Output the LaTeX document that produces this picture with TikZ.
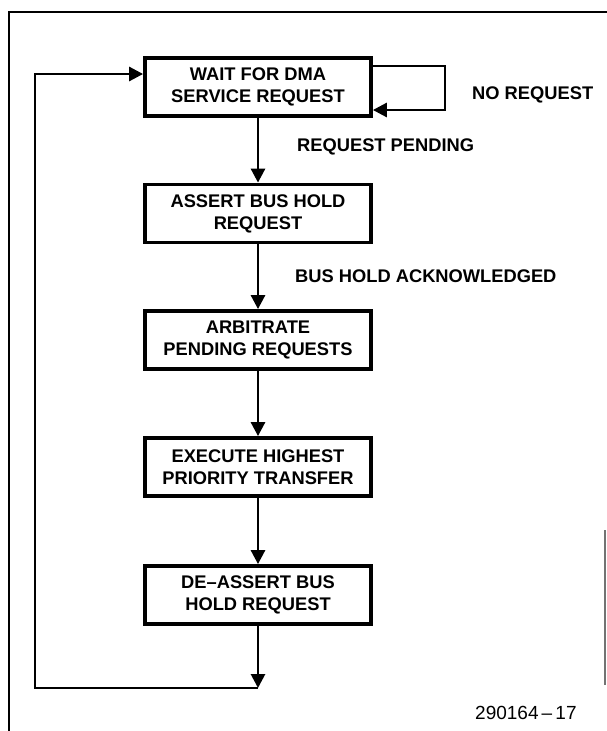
\documentclass[tikz,border=0pt]{standalone}
\usepackage{fontspec}
\newfontfamily\labfont{Liberation Sans}
\usetikzlibrary{arrows.meta}
\begin{document}
\begin{tikzpicture}[x=1pt,y=-1pt,
  >={Triangle[width=14pt,length=14pt]},
  every node/.style={font=\labfont\bfseries\fontsize{18.3}{22}\selectfont, inner sep=0pt},
  stepbox/.style={draw, line width=3.8pt, minimum width=226pt, minimum height=58pt, align=center, outer sep=1.9pt},
  arr/.style={line width=2.8pt, ->},
  lab/.style={anchor=west}]
\useasboundingbox (0,0) rectangle (607,731);
\fill[white] (0,0) rectangle (607,731);
% frame
\draw[line width=2pt] (9,731) -- (9,12) -- (607,12);
\draw[line width=1.2pt, black!55] (605,530) -- (605,685);
% boxes
\node[stepbox] (b1) at (258,87) {WAIT FOR DMA\\SERVICE REQUEST};
\node[stepbox] (b2) at (258,213.5) {ASSERT BUS HOLD\\REQUEST};
\node[stepbox] (b3) at (258,340) {ARBITRATE\\PENDING REQUESTS};
\node[stepbox] (b4) at (258,467) {EXECUTE HIGHEST\\PRIORITY TRANSFER};
\node[stepbox] (b5) at (258,595) {DE–ASSERT BUS\\HOLD REQUEST};
% labels
\node[lab] (nr) at (472,95) {NO REQUEST};
\node[lab] (rp) at (297,147) {REQUEST PENDING};
\node[lab] (bh) at (295,276) {BUS HOLD ACKNOWLEDGED};
\node[lab, font=\labfont\fontsize{19}{22}\selectfont] (id) at (475,713) {290164\,–\,17};
% coordinates
\coordinate (l1) at (445,66);
\coordinate (l2) at (445,110);
\coordinate (c1) at (258,688);
\coordinate (c2) at (35,688);
\coordinate (c3) at (35,74);
% connectors
\draw[arr] (b1) -- (b2);
\draw[arr] (b2) -- (b3);
\draw[arr] (b3) -- (b4);
\draw[arr] (b4) -- (b5);
\draw[arr] (b5) -- (c1);
\draw[arr] (b1.east |- l1) -- (l1) -- (l2) -- (b1.east |- l2);
\draw[arr] (c1) -- (c2) -- (c3) -- (b1.west |- c3);
\end{tikzpicture}
\end{document}
